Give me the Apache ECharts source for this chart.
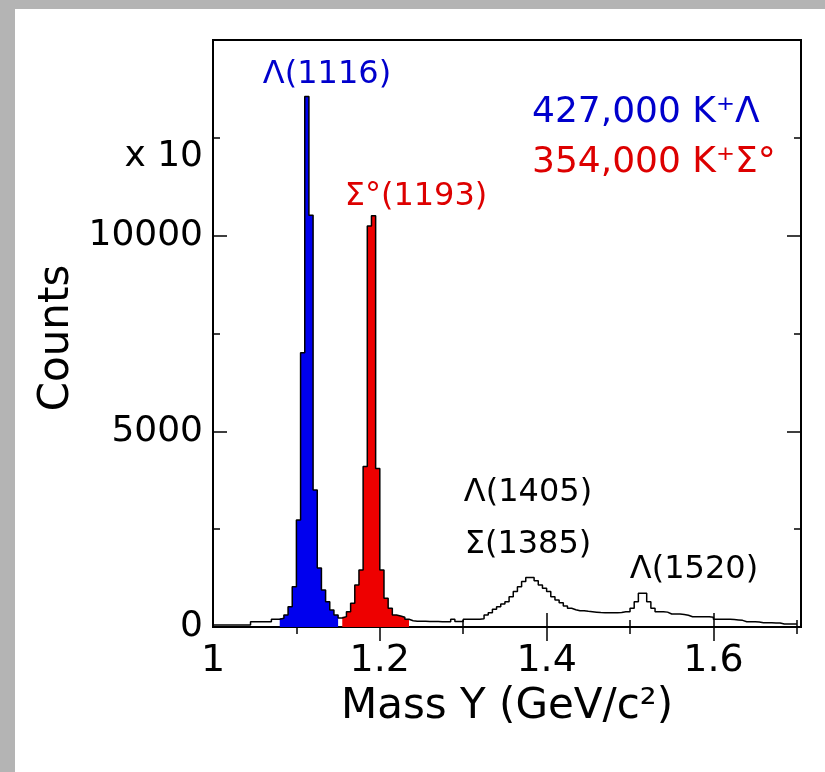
<!DOCTYPE html>
<html>
<head>
<meta charset="utf-8">
<script src="https://cdn.jsdelivr.net/npm/echarts@6/dist/echarts.min.js"></script>
<style>
html,body{margin:0;padding:0;background:#fff;}
#c{width:825px;height:772px;}
</style>
</head>
<body>
<div id="c"></div>
<script>
// ---- data ----
const binLow = 1.0;        // GeV/c^2, low edge of first bin
const binWidth = 0.005;    // GeV/c^2
// counts per bin, bins from 1.000 to 1.700
const counts = [
  50, 50, 50, 50, 50, 50, 50, 50, 50, 136,          // 1.000-1.045
  136, 136, 136, 136, 196, 196, 222, 307, 520, 1030, // 1.050-1.095
  2737, 7008, 13555, 10520, 3504, 1509, 946, 648, 435, 307, // 1.100-1.145
  230, 265, 392, 605, 1074, 1458, 4100, 10250, 10512, 4050, // 1.150-1.195
  1458, 733, 477, 307, 280, 250, 196, 160, 150, 150,  // 1.200-1.245
  145, 140, 140, 140, 136, 136, 136, 196, 140, 140,   // 1.250-1.295
  196, 196, 200, 200, 210, 307, 366, 452, 520, 588,   // 1.300-1.345
  648, 776, 904, 1031, 1160, 1262, 1262, 1185, 1074, 990, // 1.350-1.395
  904, 776, 690, 622, 537, 478, 440, 417, 417, 400,   // 1.400-1.445
  390, 380, 370, 366, 366, 366, 366, 370, 392, 392,   // 1.450-1.495
  478, 648, 862, 862, 648, 478, 392, 392, 380, 332,   // 1.500-1.545
  332, 332, 320, 300, 264, 264, 264, 264, 260, 250,   // 1.550-1.595
  196, 196, 196, 196, 190, 180, 170, 136, 136, 136,   // 1.600-1.645
  130, 110, 110, 110, 105, 100, 77, 77, 77, 77        // 1.650-1.695
];
const lambdaBins = [16, 30];   // bin index range [from, to) of the K+Lambda peak (1.080-1.150)
const sigmaBins  = [31, 47];   // bin index range [from, to) of the K+Sigma0 peak (1.155-1.235)

const xMin = 1.0, xMax = 1.705;
const yMin = 0, yMax = 15000;
const xMajorTicks = [1.2, 1.4, 1.6];
const xMinorTicks = [1.1, 1.3, 1.5, 1.7];
const xTickLabels = [1, 1.2, 1.4, 1.6];
const yMajorTicks = [5000, 10000];
const yMinorTicks = [2500, 7500, 12500];
const yTickLabels = [0, 5000, 10000];

// ---- build step-histogram data ----
function stepData(from, to) {
  const d = [];
  for (let i = from; i < to; i++) d.push([+(binLow + i * binWidth).toFixed(4), counts[i]]);
  d.push([+(binLow + to * binWidth).toFixed(4), counts[to - 1]]);
  return d;
}

const FONT = 'DejaVu Sans';
const BLUE = '#0000ee', RED = '#ee0000';

function xAx(pos, ticks, len, labels) {
  return {
    type: 'value', gridIndex: 0, position: pos, min: xMin, max: xMax,
    axisLine: { show: false }, splitLine: { show: false },
    axisTick: { show: true, inside: true, length: len, customValues: ticks,
      lineStyle: { color: '#000', width: 1.5 } },
    axisLabel: labels ? { show: true, customValues: labels, formatter: v => String(v),
      fontFamily: FONT, fontSize: 38, color: '#000', margin: 15 } : { show: false }
  };
}
function yAx(pos, ticks, len, labels) {
  return {
    type: 'value', gridIndex: 0, position: pos, min: yMin, max: yMax,
    axisLine: { show: false }, splitLine: { show: false },
    axisTick: { show: true, inside: true, length: len, customValues: ticks,
      lineStyle: { color: '#000', width: 1.5 } },
    axisLabel: labels ? { show: true, customValues: labels, formatter: v => String(v),
      fontFamily: FONT, fontSize: 36, color: '#000', margin: 10 } : { show: false }
  };
}

const chart = echarts.init(document.getElementById('c'), null, { renderer: 'canvas' });
chart.setOption({
  animation: false,
  backgroundColor: '#ffffff',
  grid: { left: 213, top: 40, right: 24, bottom: 145, show: true,
    borderColor: '#000', borderWidth: 2, backgroundColor: 'transparent' },
  xAxis: [
    xAx('bottom', xMajorTicks, 14, xTickLabels),
    xAx('bottom', xMinorTicks, 7, null),
    xAx('top', xMajorTicks, 14, null),
    xAx('top', xMinorTicks, 7, null)
  ],
  yAxis: [
    yAx('left', yMajorTicks, 14, yTickLabels),
    yAx('left', yMinorTicks, 7, null),
    yAx('right', yMajorTicks, 14, null),
    yAx('right', yMinorTicks, 7, null)
  ],
  series: [
    { type: 'line', name: 'K+Lambda', step: 'end', data: stepData(lambdaBins[0], lambdaBins[1]),
      symbol: 'none', lineStyle: { width: 0 }, areaStyle: { color: BLUE, opacity: 1 }, z: 2 },
    { type: 'line', name: 'K+Sigma0', step: 'end', data: stepData(sigmaBins[0], sigmaBins[1]),
      symbol: 'none', lineStyle: { width: 0 }, areaStyle: { color: RED, opacity: 1 }, z: 2 },
    { type: 'line', name: 'all', step: 'end', data: stepData(0, counts.length),
      symbol: 'none', lineStyle: { width: 1.5, color: '#000' }, z: 3 }
  ],
  graphic: [
    { type: 'rect', shape: { x: 0, y: 0, width: 825, height: 9 }, style: { fill: '#b4b4b4' }, z: 100 },
    { type: 'rect', shape: { x: 0, y: 0, width: 15, height: 772 }, style: { fill: '#b4b4b4' }, z: 100 },
    { type: 'text', x: 57, y: 338, rotation: Math.PI / 2,
      style: { text: 'Counts', font: '42px "DejaVu Sans"', fill: '#000', align: 'center', verticalAlign: 'middle' } },
    { type: 'text', x: 507, y: 707,
      style: { text: 'Mass Y (GeV/c²)', font: '42px "DejaVu Sans"', fill: '#000', align: 'center', verticalAlign: 'middle' } },
    { type: 'text', x: 203, y: 157,
      style: { text: 'x 10', font: '36px "DejaVu Sans"', fill: '#000', align: 'right', verticalAlign: 'middle' } },
    { type: 'text', x: 327, y: 75,
      style: { text: 'Λ(1116)', font: '32px "DejaVu Sans"', fill: '#0000cc', align: 'center', verticalAlign: 'middle' } },
    { type: 'text', x: 416, y: 197,
      style: { text: 'Σ°(1193)', font: '32px "DejaVu Sans"', fill: '#dd0000', align: 'center', verticalAlign: 'middle' } },
    { type: 'text', x: 532, y: 113,
      style: { text: '427,000 K⁺Λ', font: '36px "DejaVu Sans"', fill: '#0000cc', align: 'left', verticalAlign: 'middle' } },
    { type: 'text', x: 532, y: 163,
      style: { text: '354,000 K⁺Σ°', font: '36px "DejaVu Sans"', fill: '#dd0000', align: 'left', verticalAlign: 'middle' } },
    { type: 'text', x: 528, y: 493,
      style: { text: 'Λ(1405)', font: '32px "DejaVu Sans"', fill: '#000', align: 'center', verticalAlign: 'middle' } },
    { type: 'text', x: 528, y: 545,
      style: { text: 'Σ(1385)', font: '32px "DejaVu Sans"', fill: '#000', align: 'center', verticalAlign: 'middle' } },
    { type: 'text', x: 694, y: 570,
      style: { text: 'Λ(1520)', font: '32px "DejaVu Sans"', fill: '#000', align: 'center', verticalAlign: 'middle' } }
  ]
});
</script>
</body>
</html>
